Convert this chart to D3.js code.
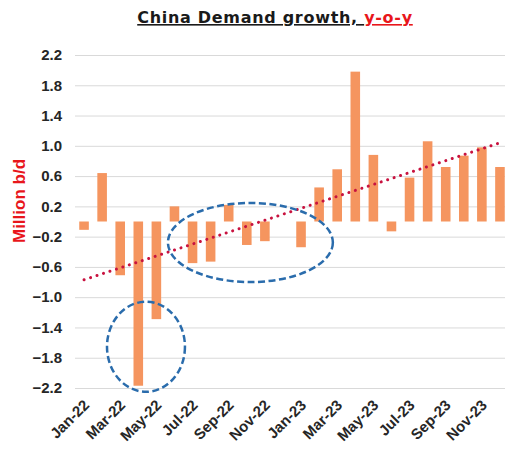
<!DOCTYPE html>
<html>
<head>
<meta charset="utf-8">
<script src="https://cdn.jsdelivr.net/npm/d3@7"></script>
<style>
  body { margin: 0; background: #fff; }
  svg { display: block; }
</style>
</head>
<body>
<div id="chart"></div>
<script>
// data
var months = ["Jan-22","Feb-22","Mar-22","Apr-22","May-22","Jun-22","Jul-22","Aug-22","Sep-22","Oct-22","Nov-22","Dec-22",
              "Jan-23","Feb-23","Mar-23","Apr-23","May-23","Jun-23","Jul-23","Aug-23","Sep-23","Oct-23","Nov-23","Dec-23"];
var growth = [-0.11, 0.64, -0.71, -2.17, -1.29, 0.20, -0.55, -0.53, 0.22, -0.31, -0.26, 0.00,
              -0.34, 0.45, 0.69, 1.98, 0.88, -0.13, 0.58, 1.06, 0.72, 0.87, 0.98, 0.72];
var tickLabels = ["Jan-22","Mar-22","May-22","Jul-22","Sep-22","Nov-22","Jan-23","Mar-23","May-23","Jul-23","Sep-23","Nov-23"];
var yTicks = [-2.2, -1.8, -1.4, -1.0, -0.6, -0.2, 0.2, 0.6, 1.0, 1.4, 1.8, 2.2];
// linear trend, value at first and last month
var trend = [-0.77, 1.04];
// circled regions: month index span and value span
var circles = [
  {i0: 1.27, i1: 5.58, v0: -1.06, v1: -2.25},
  {i0: 4.64, i1: 13.76, v0: 0.245, v1: -0.80}
];

var svgWidth = 505;
var svgHeight = 450;

var margin = {top: 55, right: -4, bottom: 62, left: 75};
var chart_width = svgWidth - margin.left - margin.right;
var chart_height = svgHeight - margin.top - margin.bottom;

var SVG = d3.select("#chart")
  .append("svg")
  .attr("width", svgWidth)
  .attr("height", svgHeight);

var g = SVG.append("g")
  .attr("transform", `translate(${margin.left}, ${margin.top})`);

var x = d3.scaleBand().domain(months).range([0, chart_width])
  .paddingInner(0.47).paddingOuter(0.235);
var y = d3.scaleLinear().domain([-2.2, 2.2]).range([chart_height, 0]);
// month index -> centre of that month's bar
var xi = d3.scaleLinear().domain([0, months.length - 1])
  .range([x(months[0]) + x.bandwidth() / 2, x(months[months.length - 1]) + x.bandwidth() / 2]);

// y axis with gridlines
var yAxis = g.append("g")
  .call(d3.axisLeft(y).tickValues(yTicks).tickFormat(d3.format(".1f"))
    .tickSize(-chart_width).tickPadding(13));
yAxis.select(".domain").remove();
yAxis.selectAll("line").attr("stroke", "#d9d9d9");
yAxis.selectAll("text")
  .attr("fill", "#262626")
  .style("font", "bold 15px 'Liberation Sans', Arial, sans-serif");

// x axis labels
var xAxis = g.append("g")
  .attr("transform", `translate(0, ${chart_height})`)
  .call(d3.axisBottom(x).tickValues(tickLabels).tickSize(0));
xAxis.select(".domain").remove();
xAxis.selectAll("text")
  .attr("x", 0).attr("y", 0).attr("dy", 0)
  .attr("text-anchor", "end")
  .attr("transform", "translate(6,18) rotate(-45)")
  .attr("fill", "#262626")
  .style("font", "bold 15px 'Liberation Sans', Arial, sans-serif");

// bars
g.selectAll(".bar")
  .data(growth)
  .enter()
  .append("rect")
  .attr("class", "bar")
  .attr("x", (d, i) => x(months[i]))
  .attr("width", x.bandwidth())
  .attr("y", d => y(Math.max(0, d)))
  .attr("height", d => Math.abs(y(d) - y(0)))
  .style("fill", "#f5955f");

// trendline
g.append("line")
  .attr("x1", xi(0)).attr("y1", y(trend[0]))
  .attr("x2", xi(months.length - 1)).attr("y2", y(trend[1]))
  .attr("stroke", "#c8123f")
  .attr("stroke-width", 3)
  .attr("stroke-linecap", "round")
  .attr("stroke-dasharray", "0.1 6.7");

// dashed circles
g.selectAll(".ring")
  .data(circles)
  .enter()
  .append("ellipse")
  .attr("class", "ring")
  .attr("cx", d => (xi(d.i0) + xi(d.i1)) / 2)
  .attr("cy", d => (y(d.v0) + y(d.v1)) / 2)
  .attr("rx", d => Math.abs(xi(d.i1) - xi(d.i0)) / 2)
  .attr("ry", d => Math.abs(y(d.v1) - y(d.v0)) / 2)
  .attr("fill", "none")
  .attr("stroke", "#2a6cac")
  .attr("stroke-width", 2.5)
  .attr("stroke-dasharray", "7 3.5");

// y axis title
SVG.append("text")
  .attr("transform", "translate(25, 201) rotate(-90)")
  .attr("text-anchor", "middle")
  .attr("fill", "#e8161b")
  .style("font", "bold 17px 'Liberation Sans', Arial, sans-serif")
  .text("Million b/d");

// title
var title = SVG.append("text")
  .attr("x", 275).attr("y", 23)
  .attr("text-anchor", "middle")
  .style("font", "bold 16px 'DejaVu Sans', sans-serif")
  .style("letter-spacing", "0.7px");
title.append("tspan")
  .attr("fill", "#1a1a1a")
  .style("text-decoration", "underline")
  .text("China Demand growth, ");
title.append("tspan")
  .attr("fill", "#e8161b")
  .style("text-decoration", "underline")
  .text("y-o-y");
</script>
</body>
</html>
